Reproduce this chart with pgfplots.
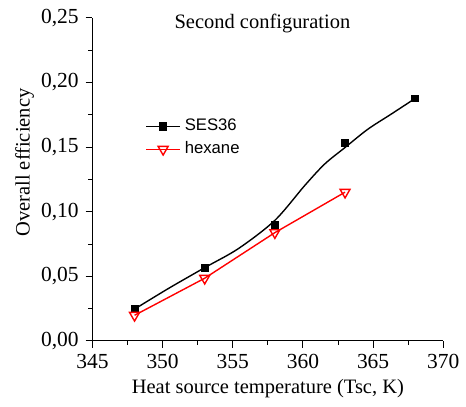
\documentclass[border=0pt]{standalone}
\usepackage{fontspec}
\setmainfont{Liberation Serif}
\newfontfamily\arial{Liberation Sans}
\usepackage{pgfplots}
\pgfplotsset{compat=1.18}
\begin{document}
\begin{tikzpicture}
\begin{axis}[
  scale only axis, width=176.5pt, height=162.5pt,
  xmin=345, xmax=370, ymin=0, ymax=0.25,
  clip=false,
  axis lines*=left,
  axis line style={line width=0.5pt},
  xtick distance=5, ytick distance=0.05,
  minor x tick num=1, minor y tick num=1,
  tick align=outside, major tick length=3.4pt, minor tick length=2pt,
  tick style={black, line width=0.5pt},
  yticklabel style={/pgf/number format/.cd, fixed, fixed zerofill, precision=2, use comma},
  xticklabel style={/pgf/number format/.cd, fixed, precision=0, 1000 sep={}},
  /pgf/number format/assume math mode=true,
  tick label style={font=\rmfamily\fontsize{10.8}{13}\selectfont},
  xlabel={Heat source temperature (Tsc, K)},
  ylabel={Overall efficiency},
  label style={font=\rmfamily\fontsize{10.3}{12}\selectfont},
  xlabel style={at={(rel axis cs:0.5,-0.148)}, anchor=center},
  ylabel style={at={(rel axis cs:-0.193,0.552)}, anchor=center},
  legend style={draw=none, fill=none, inner sep=0pt, at={(rel axis cs:0.15,0.70)}, anchor=north west,
    font=\arial\fontsize{8.4}{10}\selectfont, row sep=0pt},
  legend cell align=left,
]
\coordinate (bbA) at (rel axis cs:-0.2635,-0.2031);
\coordinate (bbB) at (rel axis cs:1.0567,1.0554);
% fitted curve for SES36
\addplot[black, line width=0.7pt, smooth, forget plot]
  coordinates {(348,0.0246) (350.45,0.0408) (353,0.0567) (355.41,0.0715) (358,0.0933)
    (360.13,0.1203) (361.55,0.1369) (363,0.1497) (364.62,0.1638) (366.27,0.1754) (368,0.1877)};
\addplot[black, only marks, mark=square*, mark size=1.75pt, mark options={solid, fill=black}, forget plot]
  coordinates {(348,0.0246) (353,0.0567) (358,0.090) (363,0.153) (368,0.1877)};
\addlegendimage{black, line width=0.7pt, mark=square*, mark size=1.75pt, mark options={solid, fill=black}}
\addlegendentry{SES36}
\addplot[red, line width=0.7pt, mark=triangle, mark size=2.9pt, mark options={solid, rotate=180, fill=white}]
  coordinates {(348,0.0198) (353,0.0485) (358,0.0838) (363,0.1151)};
\addlegendentry{hexane}
\node[font=\rmfamily\fontsize{10.3}{12}\selectfont, anchor=base] at (rel axis cs:0.4844,0.966) {Second configuration};
\end{axis}
\path[use as bounding box] (bbA) rectangle (bbB);
\end{tikzpicture}
\end{document}
